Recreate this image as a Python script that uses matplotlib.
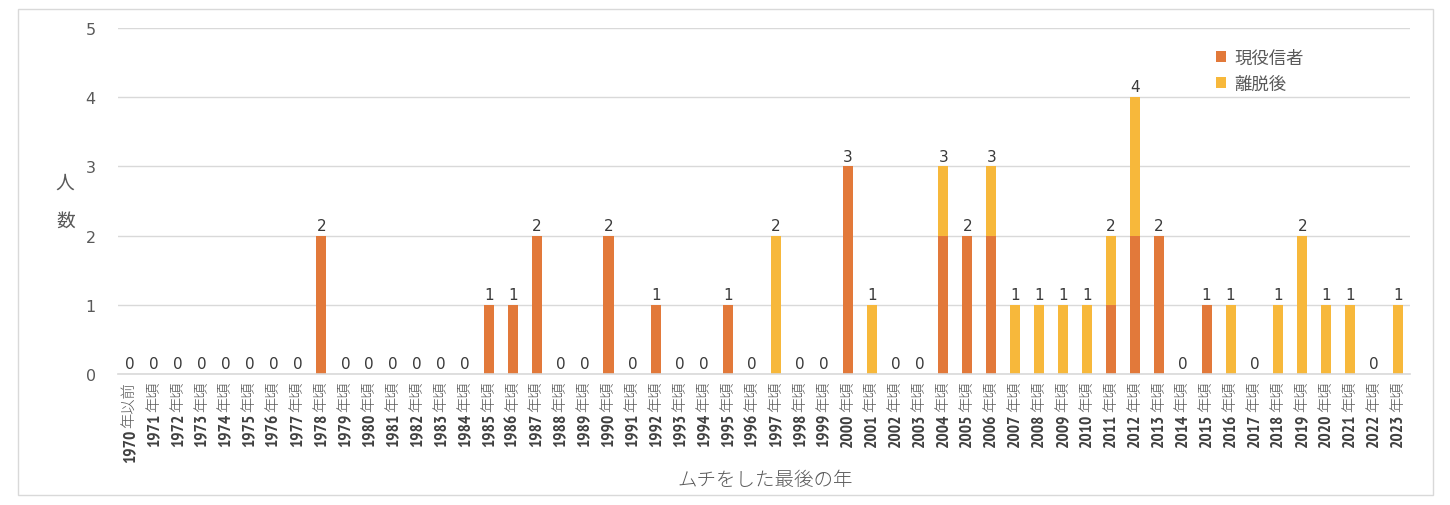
import matplotlib.pyplot as plt
from matplotlib import font_manager
from matplotlib.patches import Rectangle
from matplotlib.font_manager import FontProperties

# Data
years = ['1970'] + [str(y) for y in range(1971, 2024)]
suffixes = ['年以前'] + ['年頃'] * 53
active = [0, 0, 0, 0, 0, 0, 0, 0, 2, 0,   # 1970-1979
          0, 0, 0, 0, 0, 1, 1, 2, 0, 0,   # 1980-1989
          2, 0, 1, 0, 0, 1, 0, 0, 0, 0,   # 1990-1999
          3, 0, 0, 0, 2, 2, 2, 0, 0, 0,   # 2000-2009
          0, 1, 2, 2, 0, 1, 0, 0, 0, 0,   # 2010-2019
          0, 0, 0, 0]                     # 2020-2023
left = [0, 0, 0, 0, 0, 0, 0, 0, 0, 0,
        0, 0, 0, 0, 0, 0, 0, 0, 0, 0,
        0, 0, 0, 0, 0, 0, 0, 2, 0, 0,
        0, 1, 0, 0, 1, 0, 1, 1, 1, 1,
        1, 1, 2, 0, 0, 0, 1, 0, 1, 2,
        1, 1, 0, 1]
series_names = ['現役信者', '離脱後']
colors = ['#E2793A', '#F7B83B']
totals = [a + b for a, b in zip(active, left)]

cjk = 'Noto Sans CJK JP'
# narrow bold digits if such a font is around
digit_prop = FontProperties(family='DejaVu Sans', weight='bold', size=9.5)
for f in font_manager.fontManager.ttflist:
    if 'Narrow' in f.name and f.weight in (700, 'bold'):
        digit_prop = FontProperties(fname=f.fname, size=12.5)
        break
    if 'DejaVuSansCondensed-Bold' in f.fname:
        digit_prop = FontProperties(fname=f.fname, size=10)
plt.rcParams['font.family'] = ['DejaVu Sans', cjk]

grey = '#595959'

fig = plt.figure(figsize=(14.5, 5.06), dpi=100)
ax = fig.add_axes([0.0814, 0.2589, 0.8910, 0.6838])

x = list(range(len(years)))
ax.bar(x, active, width=0.42, color=colors[0], label=series_names[0], zorder=3)
ax.bar(x, left, width=0.42, bottom=active, color=colors[1], label=series_names[1], zorder=3)

for i, t in enumerate(totals):
    ax.annotate(str(t), xy=(i, t), xytext=(0, 2), textcoords='offset points',
                ha='center', va='bottom', fontsize=11, color='#3a3a3a',
                family='DejaVu Sans')

ax.set_xlim(-0.5, len(years) - 0.5)
ax.set_ylim(0, 5)
ax.set_yticks(range(6))
ax.set_yticklabels([str(v) for v in range(6)], fontsize=11.5, color=grey)
ax.tick_params(axis='y', length=0, pad=16)
ax.tick_params(axis='x', length=0)
ax.set_xticks([])
ax.grid(axis='y', color='#d9d9d9', linewidth=1, zorder=0)
for s in ['top', 'right', 'left']:
    ax.spines[s].set_visible(False)
ax.spines['bottom'].set_color('#d9d9d9')
ax.spines['bottom'].set_linewidth(1.2)
ax.spines['bottom'].set_zorder(4)

# two-part rotated tick labels: thin kanji suffix, bold digits
suf_size = 11
for i, (yr, suf) in enumerate(zip(years, suffixes)):
    ax.annotate(suf, xy=(i, 0), xycoords=('data', 'axes fraction'),
                xytext=(0, -5), textcoords='offset points', rotation=90,
                ha='center', va='top', fontsize=suf_size, color=grey,
                family=cjk, fontweight='light')
    ax.annotate(yr, xy=(i, 0), xycoords=('data', 'axes fraction'),
                xytext=(0, -5 - len(suf) * suf_size - 1), textcoords='offset points',
                rotation=90, ha='center', va='top', fontproperties=digit_prop,
                color='#404040')

fig.text(0.045, 0.60, '人\n数', ha='center', va='center', fontsize=13.5,
         color=grey, family=cjk, linespacing=2.1)
fig.text(0.5276, 0.051, 'ムチをした最後の年', ha='center', va='center',
         fontsize=14, color=grey, family=cjk, fontweight='light')

leg = ax.legend(loc='upper left', bbox_to_anchor=(0.838, 0.985), frameon=False,
                prop={'family': cjk, 'size': 12.5}, handlelength=0.55,
                handleheight=0.55, handletextpad=0.5, labelspacing=0.45)
for t in leg.get_texts():
    t.set_color(grey)

fig.patches.append(Rectangle((18 / 1450, 10 / 506), 1415 / 1450, 486 / 506,
                             transform=fig.transFigure, fill=False,
                             edgecolor='#d9d9d9', linewidth=1))

plt.savefig('out.png', dpi=100)
